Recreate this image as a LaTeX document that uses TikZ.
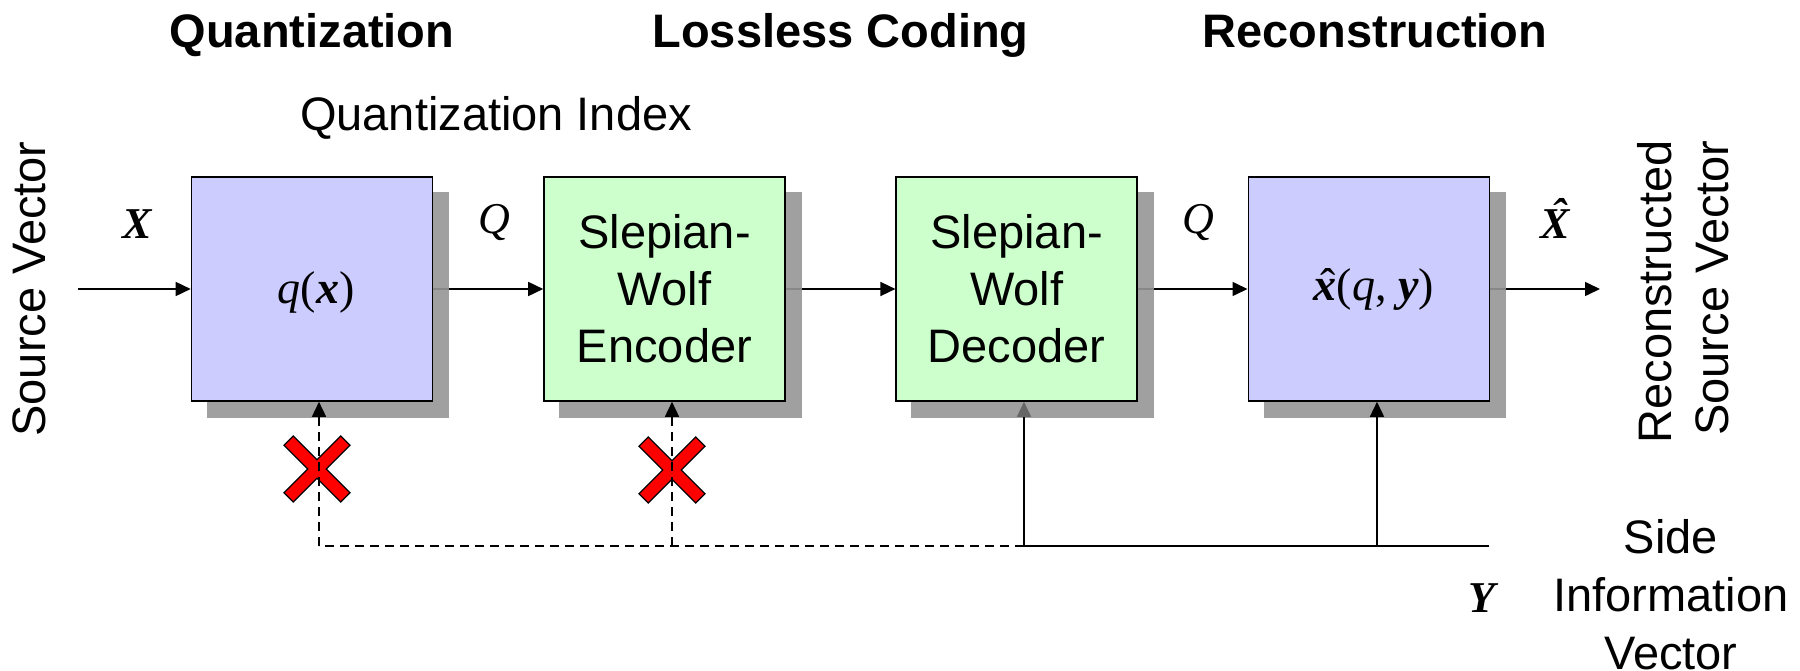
\documentclass[tikz,border=0pt]{standalone}
\usepackage{fontspec}
\setmainfont{Liberation Sans}
\newfontfamily\tms{Liberation Serif}
\usetikzlibrary{arrows.meta}
\definecolor{boxblue}{RGB}{204,204,255}
\definecolor{boxgreen}{RGB}{204,255,204}
\definecolor{shadowgray}{RGB}{150,150,150}
\definecolor{crossred}{RGB}{255,0,0}
\newcommand\hatcap[1]{\ooalign{#1\cr\hidewidth\kern0.16em\raisebox{0.2em}{\char"02C6}\hidewidth\cr}}
\newcommand\hatlow[1]{\ooalign{#1\cr\hidewidth\kern0.1em\char"02C6\hidewidth\cr}}
\newcommand\bi[1]{{\bfseries\itshape #1}}
\pgfdeclarelayer{under}
\pgfdeclarelayer{shade}
\pgfsetlayers{under,shade,main}
\begin{document}
\begin{tikzpicture}[x=1pt,y=-1pt,
  stage/.style={draw=black, line width=1.6pt, minimum width=241pt, minimum height=224pt, inner sep=0pt, align=center, font=\fontsize{47}{57}\selectfont},
  bluebox/.style={stage, fill=boxblue},
  greenbox/.style={stage, fill=boxgreen},
  conn/.style={line width=1.6pt, -{Triangle[length=15pt,width=14pt]}},
  grayconn/.style={line width=1.6pt, -{Triangle[length=15pt,width=14pt,color=black!60]}},
  plain/.style={line width=1.6pt},
  dashedconn/.style={conn, dash pattern=on 9pt off 6pt},
  dashedplain/.style={plain, dash pattern=on 9pt off 6pt},
  shadowfill/.style={fill=shadowgray, fill opacity=0.9},
  title/.style={font=\fontsize{47}{57}\selectfont\bfseries, anchor=base, inner sep=0pt},
  label/.style={font=\fontsize{47}{57}\selectfont, inner sep=0pt, align=center},
  qlabel/.style={font=\tms\fontsize{44}{50}\selectfont\itshape, inner sep=0pt},
  vlabel/.style={font=\tms\fontsize{44}{50}\selectfont\bfseries\itshape, inner sep=0pt},
  boxmath/.style={font=\tms\fontsize{46}{52}\selectfont, inner sep=0pt},
  redx/.pic={\fill[crossred, draw=black, line width=1.2pt] (0,9.2) -- (23.8,33) -- (33,23.8) -- (9.2,0) -- (33,-23.8) -- (23.8,-33) -- (0,-9.2) -- (-23.8,-33) -- (-33,-23.8) -- (-9.2,0) -- (-33,23.8) -- (-23.8,33) -- cycle;}
]
\useasboundingbox (0,0) rectangle (1800,671);

% boxes
\node[bluebox] (b1) at (312,289) {};
\node[greenbox] (b2) at (664.5,289) {Slepian-\\Wolf\\Encoder};
\node[greenbox] (b3) at (1016.7,289) {Slepian-\\Wolf\\Decoder};
\node[bluebox] (b4) at (1368.8,289) {};

\node[boxmath] (m1) at (316,292) {{\itshape q}(\bi{x})};
\node[boxmath] (m4) at (1374,290) {\hatlow{\bi{x}}({\itshape q}, \bi{y})};

% shadows
\begin{pgfonlayer}{shade}
\foreach \b in {b1,b2,b3,b4}
  \path[shadowfill] ([shift={(16,16)}]\b.south west) rectangle ([shift={(16,16)}]\b.north east);
\end{pgfonlayer}

% coordinates
\coordinate (src) at (78,289);
\coordinate (out) at (1600,289);
\coordinate (yend) at (1489,546);
\coordinate (j1) at (319,546);
\coordinate (j2) at (672,546);
\coordinate (j3) at (1024,546);
\coordinate (j4) at (1377,546);

% crosses
\pic at (317,469) {redx};
\pic at (672,470) {redx};

% horizontal connectors (partly under the shadows)
\begin{pgfonlayer}{under}
\draw[conn] (src) -- (b1.west);
\draw[conn] (b1.east) -- (b2.west);
\draw[conn] (b2.east) -- (b3.west);
\draw[conn] (b3.east) -- (b4.west);
\draw[conn] (b4.east) -- (out);
\end{pgfonlayer}

% side information
\draw[plain] (yend) -- (j3);
\draw[dashedplain] (j3) -- (j1);
\draw[dashedconn] (j1) -- (j1 |- b1.south);
\draw[dashedconn] (j2) -- (j2 |- b2.south);
\draw[grayconn] (j3) -- (j3 |- b3.south);
\draw[conn] (j4) -- (j4 |- b4.south);

% labels
\node[title] (t1) at (312,48) {Quantization};
\node[title] (t2) at (840.5,48) {Lossless Coding};
\node[title] (t3) at (1375,48) {Reconstruction};
\node[label, anchor=base] (qi) at (496,131) {Quantization Index};
\node[label, rotate=90, anchor=base] (sv) at (45,289) {Source Vector};
\node[label, rotate=90, align=right] (rsv) at (1683,292) {Reconstructed\\Source Vector};
\node[label, font=\fontsize{47}{58}\selectfont] (siv) at (1671,595) {Side\\Information\\Vector};
\node[vlabel] (xl) at (137,224) {X};
\node[qlabel] (q1) at (494,223) {Q};
\node[qlabel] (q2) at (1198,223) {Q};
\node[vlabel] (xh) at (1555,224) {\hatcap{X}};
\node[vlabel, anchor=base] (yl) at (1482,612) {Y};
\end{tikzpicture}
\end{document}
